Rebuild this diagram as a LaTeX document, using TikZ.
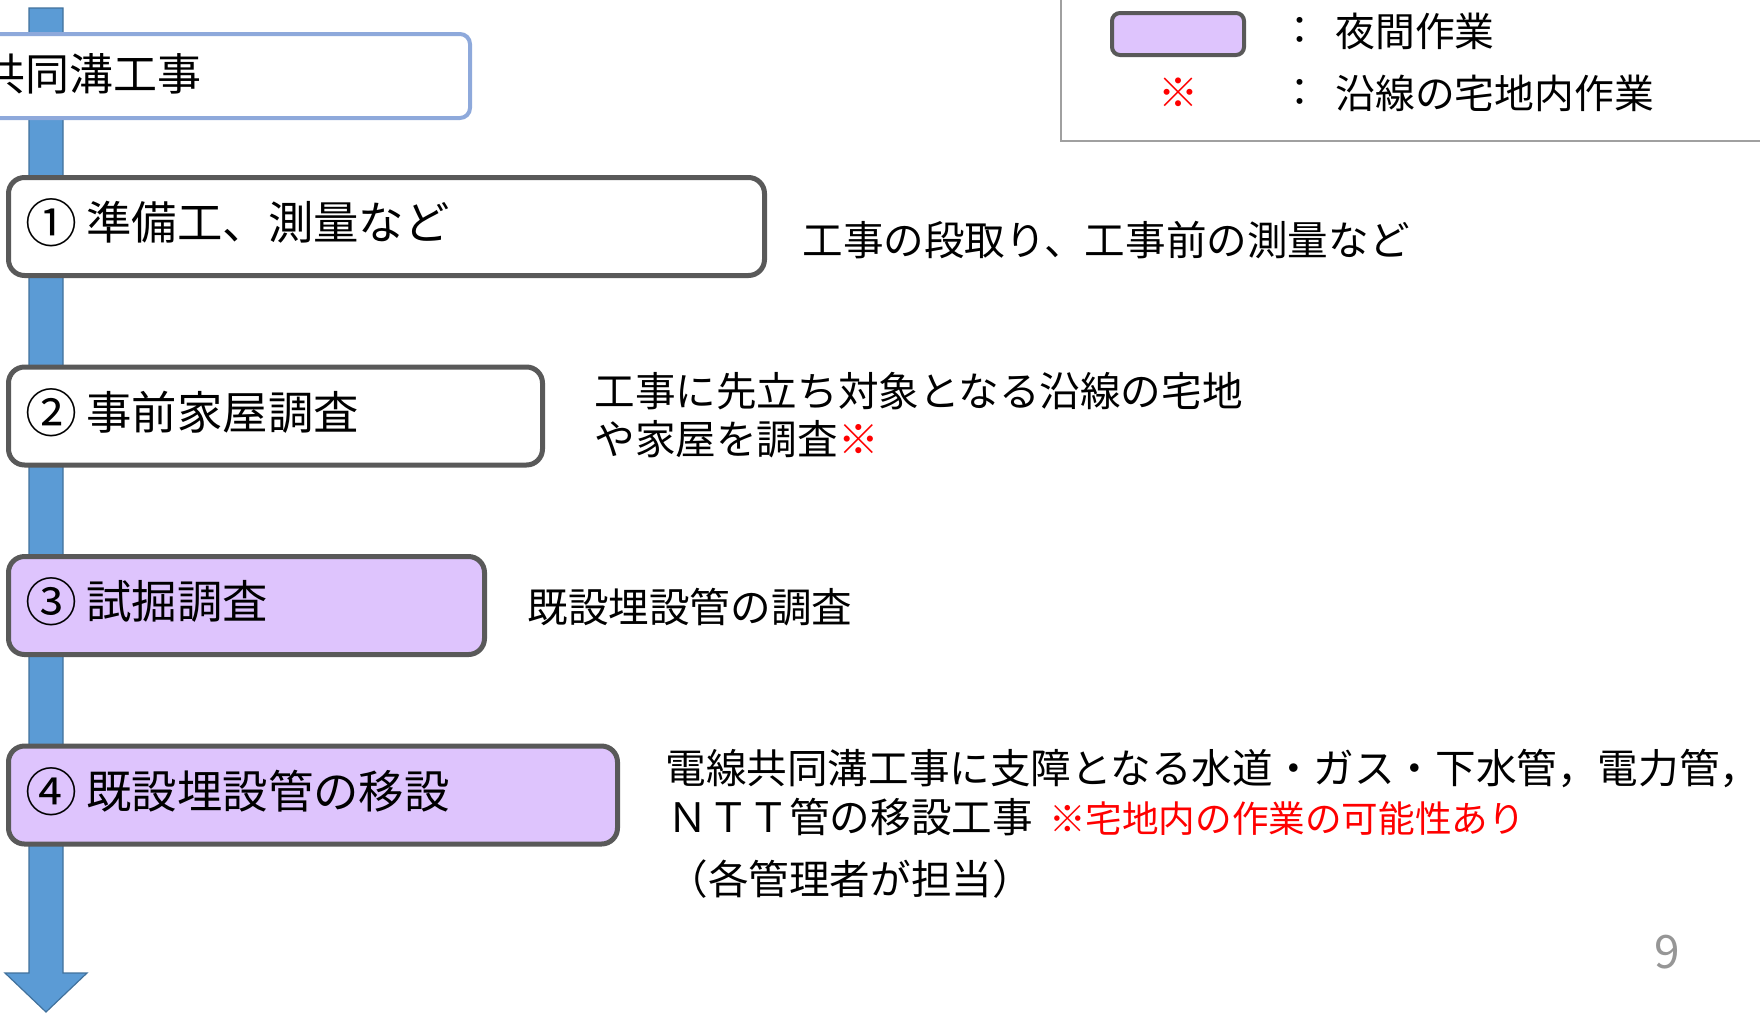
\documentclass[tikz,border=0pt]{standalone}
\usepackage{fontspec}
\setmainfont{Noto Sans CJK JP}
\definecolor{night}{RGB}{222,196,253}
\definecolor{boxline}{RGB}{89,89,89}
\definecolor{topline}{RGB}{142,169,219}
\definecolor{arrowfill}{RGB}{91,155,213}
\definecolor{arrowline}{RGB}{65,113,156}
\definecolor{legline}{RGB}{160,160,160}
\definecolor{pagegray}{RGB}{150,150,150}
\newcommand{\circnum}[1]{{\fontsize{26pt}{27pt}\selectfont\raisebox{-0.06em}{#1}}}
\tikzset{
  stepbox/.style={draw=boxline, line width=2.5pt, rounded corners=8pt, minimum height=49pt, inner sep=0pt},
  nightbox/.style={stepbox, fill=night},
  daybox/.style={stepbox, fill=white},
  toptitle/.style={draw=topline, line width=2pt, rounded corners=5pt, fill=white, inner sep=0pt},
  boxlabel/.style={anchor=west, inner sep=0pt, font=\fontsize{22.7pt}{27pt}\selectfont},
  desc/.style={anchor=west, inner sep=0pt, align=left, font=\fontsize{20.3pt}{24pt}\selectfont},
  legtext/.style={anchor=west, inner sep=0pt, font=\fontsize{19.9pt}{24pt}\selectfont},
}
\begin{document}
\begin{tikzpicture}[x=0.5pt,y=-0.5pt]
\useasboundingbox (0,0) rectangle (1760,1013);
\clip (0,0) rectangle (1760,1013);
% flow arrow
\fill[arrowfill, draw=arrowline, line width=0.6pt] (29,8) -- (63,8) -- (63,973) -- (87,973) -- (46,1012) -- (5,973) -- (29,973) -- cycle;
% title box
\node[toptitle, minimum width=250pt, minimum height=42pt] (top) at (220,76) {};
\node[anchor=west, inner sep=0pt, font=\fontsize{22pt}{26pt}\selectfont] (toplabel) at (-19,74) {共同溝工事};
% steps
\node[daybox, minimum width=378pt] (s1) at (386.5,226.5) {};
\node[boxlabel] (l1) at (25,223) {\circnum{①}\hspace{0.2em}準備工、測量など};
\node[daybox, minimum width=267pt] (s2) at (275.5,416) {};
\node[boxlabel] (l2) at (25,413) {\circnum{②}\hspace{0.2em}事前家屋調査};
\node[nightbox, minimum width=238pt] (s3) at (246.5,605.5) {};
\node[boxlabel] (l3) at (25,602) {\circnum{③}\hspace{0.2em}試掘調査};
\node[nightbox, minimum width=304.5pt] (s4) at (313,795) {};
\node[boxlabel] (l4) at (25,792) {\circnum{④}\hspace{0.2em}既設埋設管の移設};
% descriptions
\node[desc] (d1) at (802,240) {工事の段取り、工事前の測量など};
\node[desc] (d2) at (594,415) {工事に先立ち対象となる沿線の宅地\\や家屋を調査\textcolor{red}{※}};
\node[desc] (d3) at (527,607) {既設埋設管の調査};
\node[desc] (d4a) at (665,769) {電線共同溝工事に支障となる水道・ガス・下水管，電力管，};
\node[desc] (d4b) at (667,817) {ＮＴＴ管の移設工事\hspace{0.4em}{\color{red}\fontsize{18.3pt}{22pt}\selectfont ※宅地内の作業の可能性あり}};
\node[desc] (d4c) at (667,879) {（各管理者が担当）};
% legend
\draw[legline, line width=0.8pt] (1061,-10) rectangle (1775,141);
\node[draw=boxline, fill=night, line width=2pt, rounded corners=4pt, minimum width=66pt, minimum height=21pt, inner sep=0pt] (sw) at (1178,34) {};
\node[inner sep=0pt, font=\fontsize{20pt}{24pt}\selectfont, text=red] (mark) at (1178,93) {※};
\node[inner sep=0pt, font=\fontsize{19.5pt}{24pt}\selectfont] (c1) at (1300,31) {：};
\node[inner sep=0pt, font=\fontsize{19.5pt}{24pt}\selectfont] (c2) at (1300,93) {：};
\node[legtext] (lg1) at (1335,31) {夜間作業};
\node[legtext] (lg2) at (1335,93) {沿線の宅地内作業};
% page number
\node[inner sep=0pt, text=pagegray, font=\fontsize{23pt}{26pt}\selectfont] (pg) at (1667,952) {9};
\end{tikzpicture}
\end{document}
